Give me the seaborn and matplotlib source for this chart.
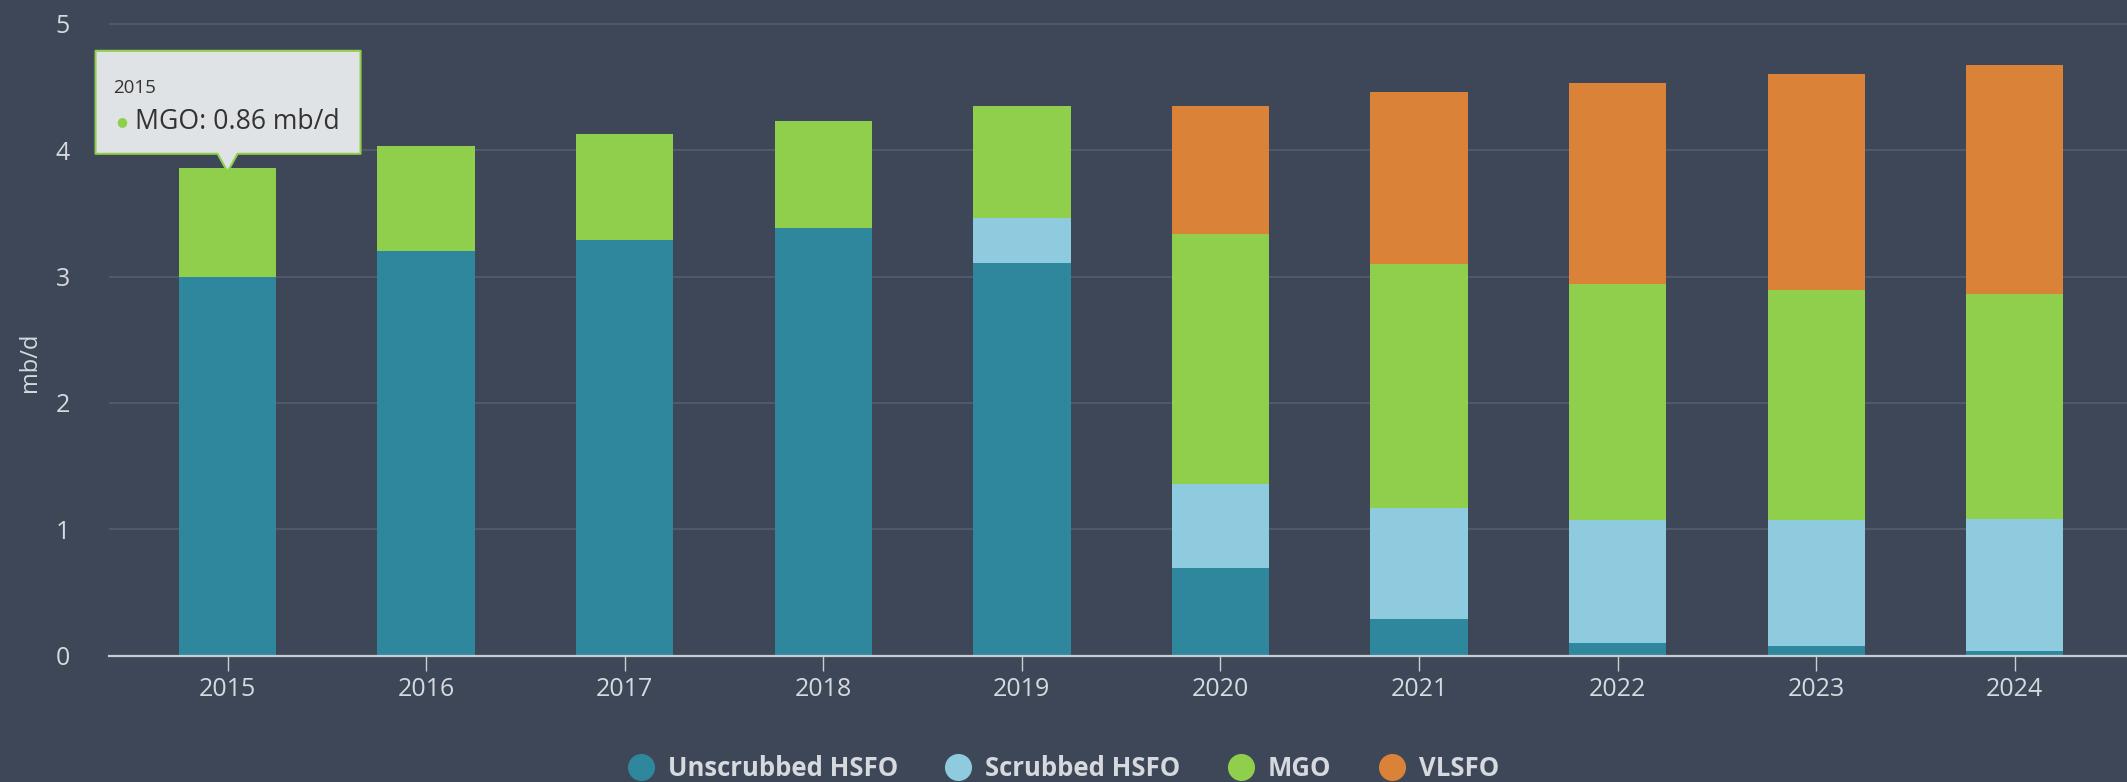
import numpy as np
import pandas as pd
import seaborn as sns
import matplotlib.pyplot as plt
from matplotlib.lines import Line2D
from matplotlib.patches import Polygon
from matplotlib.transforms import IdentityTransform

# --- data (mb/d) ---
years = ['2015', '2016', '2017', '2018', '2019', '2020', '2021', '2022', '2023', '2024']
unscrubbed_hsfo = [3.00, 3.20, 3.29, 3.38, 3.11, 0.69, 0.29, 0.10, 0.08, 0.04]
scrubbed_hsfo = [0.00, 0.00, 0.00, 0.00, 0.35, 0.67, 0.88, 0.97, 0.99, 1.04]
mgo = [0.86, 0.83, 0.84, 0.85, 0.89, 1.98, 1.93, 1.87, 1.82, 1.78]
vlsfo = [0.00, 0.00, 0.00, 0.00, 0.00, 1.01, 1.36, 1.59, 1.71, 1.81]
series_names = ['Unscrubbed HSFO', 'Scrubbed HSFO', 'MGO', 'VLSFO']
series_colors = ['#2e879c', '#8fcbde', '#8fcf4b', '#da8237']
y_ticks = [0, 1, 2, 3, 4, 5]
unit = 'mb/d'

bg = '#3d4757'
grid_col = '#515b6b'
text_col = '#d6d9de'

sns.set_theme(style='dark')
plt.rcParams['font.family'] = ['Open Sans', 'DejaVu Sans']

fig = plt.figure(figsize=(21.27, 7.82), dpi=100, facecolor=bg)
# plot area in pixels: left 109, zero line at y=655.7, 126.4 px per unit
ax = fig.add_axes([109 / 2127, 1 - 655.7 / 782, 1 - 109 / 2127, 5.05 * 126.4 / 782])
ax.set_facecolor(bg)

# --- stacked columns ---
bottom = np.zeros(len(years))
for name, vals, color in zip(series_names, [unscrubbed_hsfo, scrubbed_hsfo, mgo, vlsfo], series_colors):
    sns.barplot(x=years, y=vals, bottom=bottom, color=color, saturation=1,
                width=0.49, errorbar=None, linewidth=0, ax=ax)
    bottom = bottom + np.array(vals)

ax.set_xlim(-0.597, 9.565)
ax.set_ylim(0, 5.05)
ax.set_yticks(y_ticks)
ax.yaxis.grid(True, color=grid_col, lw=1.3)
ax.xaxis.grid(False)
ax.set_axisbelow(True)
for side in ['top', 'right', 'left']:
    ax.spines[side].set_visible(False)
ax.spines['bottom'].set_color('#c9cdd4')
ax.spines['bottom'].set_linewidth(1.6)

ax.tick_params(axis='x', bottom=True, length=11, width=1, color='#c9cdd4',
               labelcolor=text_col, labelsize=18, pad=4)
ax.tick_params(axis='y', left=False, labelcolor=text_col, labelsize=18, pad=22)
ax.set_xlabel('')
ax.set_ylabel(unit, color=text_col, fontsize=17)
ax.yaxis.set_label_coords(-0.033, 0.46)

# --- tooltip on the 2015 MGO segment ---
fig.canvas.draw()
tx, ty = ax.transData.transform((0, bottom[0]))
ty -= 4  # pointer tip dips slightly into the column
xl, xr = tx - 132, tx + 133
yb, yt = ty + 18, ty + 121
verts = [(xl, yb), (tx - 10, yb), (tx, ty), (tx + 10, yb), (xr, yb), (xr, yt), (xl, yt)]
tip = Polygon(verts, closed=True, transform=IdentityTransform(), facecolor='#e0e3e5',
              edgecolor=series_colors[2], lw=1.5, joinstyle='round', zorder=10, clip_on=False)
ax.add_patch(tip)
ax.annotate(years[0], xy=(0, bottom[0]), xytext=(-114, 80), textcoords='offset pixels',
            ha='left', va='center', fontsize=13.5, color='#333333', zorder=11)
ax.annotate('\u25cf', xy=(0, bottom[0]), xytext=(-111, 46), textcoords='offset pixels',
            ha='left', va='center', fontsize=9, color=series_colors[2], zorder=11)
ax.annotate(f'{series_names[2]}: {mgo[0]:.2f} {unit}', xy=(0, bottom[0]),
            xytext=(-93, 46), textcoords='offset pixels',
            ha='left', va='center', fontsize=19.2, color='#333333', zorder=11)

# --- legend ---
handles = [Line2D([], [], marker='o', ls='', markersize=19.5, markerfacecolor=c,
                  markeredgewidth=0) for c in series_colors]
fig.legend(handles, series_names, loc='center', bbox_to_anchor=(0.5, 14 / 782), ncol=4,
           frameon=False, prop=dict(weight='bold', size=18.5), labelcolor=text_col,
           handlelength=1.0, handletextpad=0.55, columnspacing=1.85, borderaxespad=0)

fig.savefig('out.png', dpi=100, facecolor=bg)
